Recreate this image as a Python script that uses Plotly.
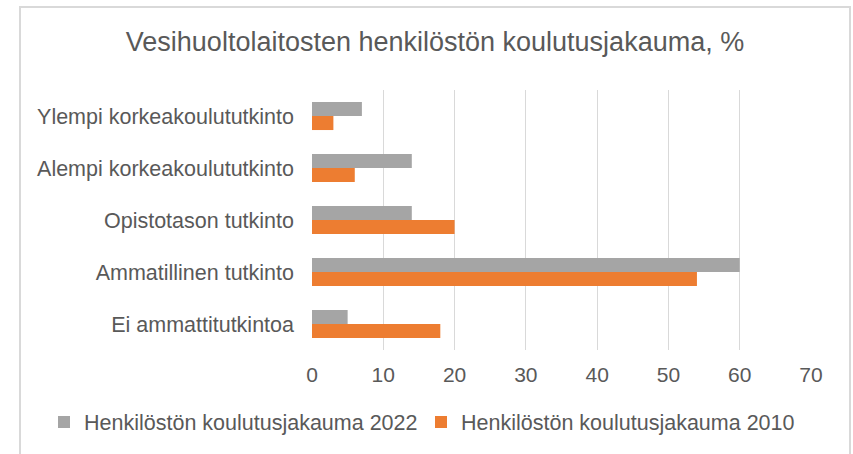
import plotly.graph_objects as go

categories = ["Ylempi korkeakoulututkinto", "Alempi korkeakoulututkinto",
              "Opistotason tutkinto", "Ammatillinen tutkinto", "Ei ammattitutkintoa"]
values_2022 = [7, 14, 14, 60, 5]
values_2010 = [3, 6, 20, 54, 18]
name_2022 = "Henkilöstön koulutusjakauma 2022"
name_2010 = "Henkilöstön koulutusjakauma 2010"
title_text = "Vesihuoltolaitosten henkilöstön koulutusjakauma, %"

W, H = 853, 454
L, R, T, B = 312, 811, 90, 350
pw, ph = R - L, B - T

def px(x):
    return (x - L) / pw

def py(y):
    return (B - y) / ph

font = "Liberation Sans, Arial, sans-serif"
txt = "#595959"

fig = go.Figure()
fig.add_trace(go.Bar(y=categories, x=values_2022, name=name_2022, orientation="h",
                     marker=dict(color="#A5A5A5", line=dict(width=0))))
fig.add_trace(go.Bar(y=categories, x=values_2010, name=name_2010, orientation="h",
                     marker=dict(color="#ED7D31", line=dict(width=0))))

fig.update_layout(
    width=W, height=H,
    margin=dict(l=L, r=W - R, t=T, b=H - B, pad=0, autoexpand=False),
    paper_bgcolor="white", plot_bgcolor="white",
    barmode="group", bargap=0.46, bargroupgap=0,
    font=dict(family=font, color=txt, size=21),
    title=dict(text=title_text, x=435 / W, xanchor="center", y=1 - 42 / H,
               yanchor="middle", font=dict(size=27, color=txt, family=font)),
    xaxis=dict(range=[0, 70], dtick=10, showgrid=True, gridcolor="#D9D9D9", gridwidth=1,
               zeroline=False, showline=False, ticks="", ticklabelstandoff=10,
               tickangle=0, automargin=False, tickfont=dict(size=21, color=txt)),
    yaxis=dict(autorange="reversed", showgrid=False, zeroline=False, showline=False,
               ticks="", ticklabelstandoff=17, automargin=False,
               tickfont=dict(size=21.5, color=txt)),
    legend=dict(orientation="h", xref="paper", x=px(44), xanchor="left",
                y=py(422), yanchor="middle", entrywidth=332, entrywidthmode="pixels",
                bgcolor="rgba(0,0,0,0)",
                font=dict(size=21.5, color=txt), itemwidth=30, tracegroupgap=0),
    showlegend=True,
)

fig.add_shape(type="rect", xref="paper", yref="paper",
              x0=px(20), x1=px(850), y0=py(470), y1=py(7),
              line=dict(color="#D9D9D9", width=2), fillcolor="rgba(0,0,0,0)", layer="below")

fig.write_html("out.html", config={"displayModeBar": False},
               post_script="document.body.style.margin='0px';")
